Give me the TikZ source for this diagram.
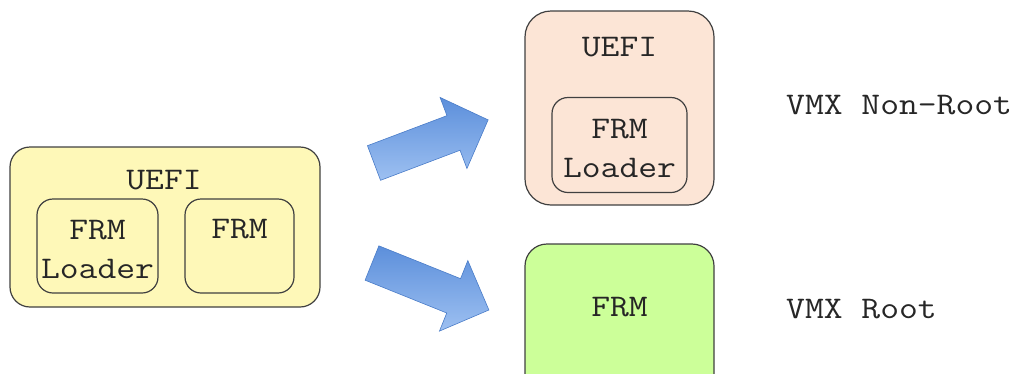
\documentclass[tikz,border=0pt]{standalone}
\usepackage{fontspec}
\setmainfont{Latin Modern Mono}[FakeStretch=1.16]
\definecolor{yel}{HTML}{FEF8B8}
\definecolor{peach}{HTML}{FCE5D6}
\definecolor{grn}{HTML}{CCFF99}
\definecolor{edge}{HTML}{404040}
\definecolor{arrA}{HTML}{5C8FDB}
\definecolor{arrB}{HTML}{9DC0F1}
\definecolor{arrE}{HTML}{4A7CC8}
\tikzset{
  box/.style={draw=edge, line width=1.2pt, rounded corners=#1, inner sep=0pt},
  lbl/.style={font=\fontsize{31.5}{39}\selectfont, text=black!85, align=center, inner sep=0pt},
  fat/.style={draw=arrE, line width=0.6pt, top color=arrA, bottom color=arrB, line join=miter}
}
\begin{document}
\begin{tikzpicture}[x=1pt,y=-1pt]
\useasboundingbox (0,0) rectangle (1014,373);
% left group
\path[box=20pt, fill=yel] (10,147) rectangle (320,307);
\node[box=16pt, minimum width=121pt, minimum height=94pt] (ldr) at (97.5,246) {};
\node[box=16pt, minimum width=109pt, minimum height=94pt] (frm) at (239.5,246) {};
\node[lbl] (uefiA) at (164,180) {UEFI};
\node[lbl] (ldrT) at (97.5,249) {FRM\\Loader};
\node[lbl] (frmT) at (239.5,229) {FRM};
% right top
\path[box=26pt, fill=peach] (525,11) rectangle (714,205);
\node[box=16pt, minimum width=135pt, minimum height=95pt] (ldr2) at (619.5,145) {};
\node[lbl] (uefiB) at (619.5,47) {UEFI};
\node[lbl] (ldr2T) at (619.5,148) {FRM\\Loader};
% right bottom
\path[box=22pt, fill=grn] (525,244) rectangle (714,395);
\node[lbl] (frm2T) at (619.5,307) {FRM};
% side labels
\node[lbl, anchor=west] (nonroot) at (786,105) {VMX Non-Root};
\node[lbl, anchor=west] (root) at (786,309) {VMX Root};
% fat arrows
\begin{scope}[shift={(374,163)}, rotate=20.7]
  \path[fat] (0,-18.5) -- (85,-18.5) -- (85,-38) -- (122,0) -- (85,38) -- (85,18.5) -- (0,18.5) -- cycle;
\end{scope}
\begin{scope}[shift={(372,263)}, rotate=-21.9]
  \path[fat] (0,-18.5) -- (88,-18.5) -- (88,-38) -- (126,0) -- (88,38) -- (88,18.5) -- (0,18.5) -- cycle;
\end{scope}
\end{tikzpicture}
\end{document}
